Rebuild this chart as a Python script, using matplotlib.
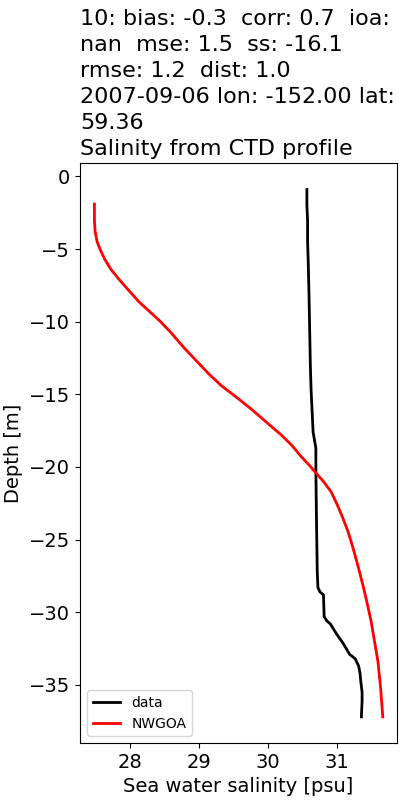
import matplotlib
matplotlib.use("Agg")
import matplotlib.pyplot as plt

# observed CTD profile (salinity, depth)
data_sal = [30.56, 30.56, 30.57, 30.57, 30.58, 30.59, 30.60, 30.61, 30.62, 30.65,
            30.69, 30.69, 30.70, 30.71, 30.72, 30.75, 30.80, 30.81, 30.85, 30.90,
            30.99, 31.08, 31.18, 31.26, 31.31, 31.33, 31.34, 31.36, 31.36, 31.35]
data_depth = [-0.9, -2.0, -3.0, -4.5, -6.0, -8.0, -10.5, -13.0, -14.6, -17.6,
              -18.7, -20.2, -24.0, -27.2, -28.3, -28.6, -28.8, -30.3, -30.6, -30.8,
              -31.5, -32.1, -32.9, -33.2, -33.7, -34.2, -34.7, -35.5, -36.1, -37.2]

# model profile
model_sal = [27.48, 27.48, 27.49, 27.52, 27.57, 27.63, 27.72, 27.84, 27.97, 28.12,
             28.28, 28.44, 28.59, 28.78, 28.96, 29.14, 29.32, 29.54, 29.75, 29.97,
             30.19, 30.34, 30.48, 30.60, 30.67, 30.80, 30.91, 31.00, 31.08, 31.16,
             31.23, 31.30, 31.37, 31.43, 31.49, 31.54, 31.59, 31.63, 31.66]
model_depth = [-1.9, -3.0, -3.8, -4.5, -5.1, -5.7, -6.4, -7.1, -7.8, -8.6,
               -9.3, -10.0, -10.75, -11.8, -12.7, -13.6, -14.4, -15.2, -16.0, -16.9,
               -17.8, -18.5, -19.3, -19.9, -20.3, -21.0, -21.7, -22.6, -23.5, -24.5,
               -25.6, -26.8, -28.1, -29.3, -30.6, -32.0, -33.4, -35.3, -37.2]

title = ("10: bias: -0.3  corr: 0.7  ioa:\nnan  mse: 1.5  ss: -16.1\n"
         "rmse: 1.2  dist: 1.0\n2007-09-06 lon: -152.00 lat:\n59.36\n"
         "Salinity from CTD profile")

fig, ax = plt.subplots(figsize=(4, 8), dpi=100)
ax.plot(data_sal, data_depth, color='black', lw=2, label='data')
ax.plot(model_sal, model_depth, color='red', lw=2, label='NWGOA')

ax.set_title(title, loc='left', fontsize=16, linespacing=1.37)
ax.set_xlabel('Sea water salinity [psu]', fontsize=14)
ax.set_ylabel('Depth [m]', fontsize=14)
ax.tick_params(labelsize=14)
ax.legend(loc='lower left', fontsize=10)

fig.subplots_adjust(left=0.2, right=0.993, top=0.796, bottom=0.071)
fig.savefig('out.png')
